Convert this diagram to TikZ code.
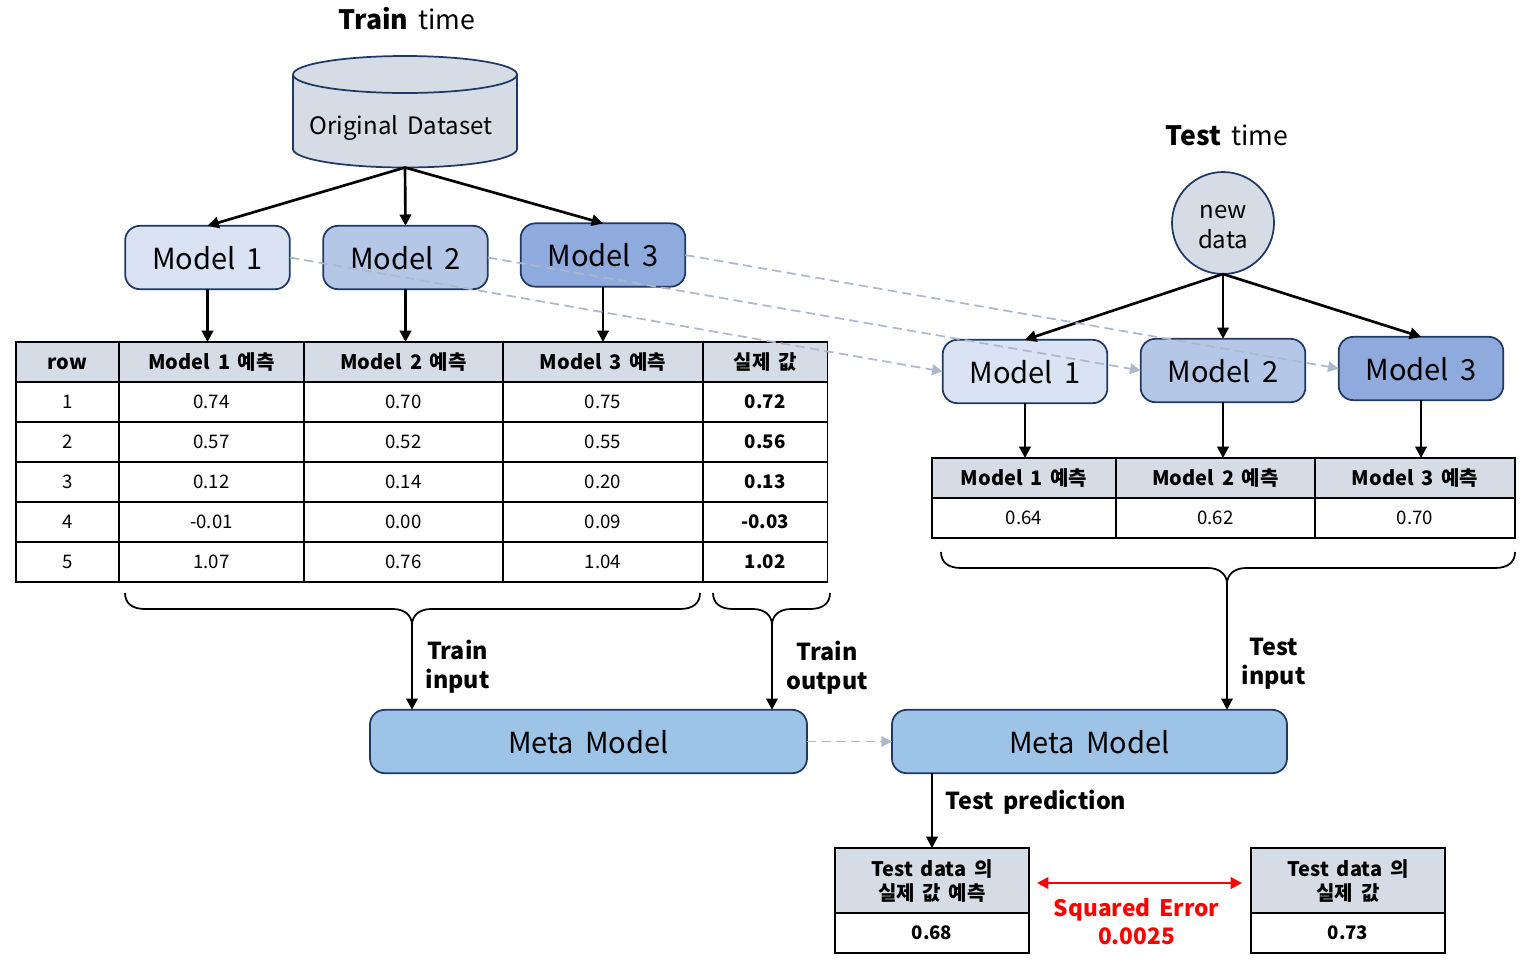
\documentclass[tikz,border=0pt]{standalone}
\usepackage{fontspec}
\setmainfont[WordSpace=1.7]{Noto Sans CJK KR}
\usetikzlibrary{arrows.meta}
\definecolor{navy}{HTML}{1F3864}
\definecolor{mA}{HTML}{DAE3F3}
\definecolor{mB}{HTML}{B4C7E7}
\definecolor{mC}{HTML}{8FAADC}
\definecolor{metaC}{HTML}{9DC3E6}
\definecolor{hdr}{HTML}{D6DCE5}
\definecolor{dashc}{HTML}{ADB9CA}
\newcommand{\fs}[1]{\fontsize{#1pt}{\dimexpr #1pt*6/5\relax}\selectfont}
\tikzset{
  x=0.75pt,y=-0.75pt,
  modelbox/.style={draw=navy,line width=1.3pt,rounded corners=11pt,minimum width=123.5pt,minimum height=47.5pt,inner sep=0pt,outer sep=0pt,font=\fs{21.8},text height=19pt,text depth=1.5pt},
  metabox/.style={modelbox,fill=metaC},
  cellb/.style={draw=black,line width=1.4pt,inner sep=0pt,outer sep=0pt,minimum height=30pt,font=\fs{14},text height=11.2pt,text depth=1pt},
  headb/.style={cellb,fill=hdr,font=\fs{15}\bfseries,text height=12pt,text depth=1pt},
  headtwo/.style={draw=black,line width=1.4pt,inner sep=0pt,outer sep=0pt,fill=hdr,font=\fs{15}\bfseries,minimum width=145.5pt,minimum height=48.75pt,align=center},
  valb/.style={cellb,font=\fs{14}\bfseries},
  free/.style={inner sep=0pt,outer sep=0pt,align=center},
  lab/.style={free,font=\fs{17.5}\bfseries},
  arr/.style={draw=black,line width=2pt,-{Triangle[length=8.5pt,width=8.5pt]}},
  dashln/.style={draw=dashc,line width=1.3pt,dash pattern=on 7pt off 4pt,-{Triangle[length=8pt,width=8pt]}},
  bracel/.style={draw=black,line width=1.3pt},
}
\newcommand{\bracepath}[6]{% left,right,tip x, y top, y mid, y tip
  \draw[bracel] (#1,#4) .. controls (#1,#4+10) and (#1+7,#5) .. (#1+20,#5) -- (#3-19,#5) .. controls (#3-8,#5) and (#3,#5+6) .. (#3,#6) .. controls (#3,#5+6) and (#3+8,#5) .. (#3+19,#5) -- (#2-20,#5) .. controls (#2-7,#5) and (#2,#4+10) .. (#2,#4);}
\begin{document}
\begin{tikzpicture}
\useasboundingbox (0,0) rectangle (1538,965);
% titles
\node[free,font=\fs{20}] (ttrain) at (407,19) {\textbf{Train} time};
\node[free,font=\fs{20}] (ttest) at (1227,135) {\textbf{Test} time};
% database
\draw[draw=navy,line width=1.3pt,fill=hdr] (293,74.5) -- (293,149) arc[x radius=112,y radius=18.5,start angle=180,end angle=0] -- (517,74.5);
\draw[draw=navy,line width=1.3pt,fill=hdr] (405,74.5) ellipse[x radius=112,y radius=18.5];
\node[free,font=\fs{18}] (dbtext) at (401,128) {Original Dataset};
\coordinate (db) at (405,167.5);
% train models
\node[modelbox,fill=mA] (m1) at (207.5,257.5) {Model 1};
\node[modelbox,fill=mB] (m2) at (405.5,257.5) {Model 2};
\node[modelbox,fill=mC] (m3) at (603,255) {Model 3};
% circle
\node[circle,draw=navy,line width=1.3pt,fill=hdr,minimum size=76.5pt,inner sep=0pt,outer sep=0pt] (nd) at (1223,223) {};
\node[free,font=\fs{18}] (ndt) at (1223,227) {new\\[1pt]data};
% test models
\node[modelbox,fill=mA] (t1) at (1025,371.5) {Model 1};
\node[modelbox,fill=mB] (t2) at (1223,370.5) {Model 2};
\node[modelbox,fill=mC] (t3) at (1421,368.5) {Model 3};
% train table
\foreach \n/\xa/\xb/\txt in {r/16/119/row,a/119/304/Model 1 예측,b/304/503/Model 2 예측,c/503/703/Model 3 예측,d/703/827.5/실제 값}{
  \pgfmathsetmacro{\xc}{(\xa+\xb)/2}
  \pgfmathsetmacro{\cw}{(\xb-\xa)*0.75}
  \node[headb,minimum width=\cw pt] (h\n) at (\xc,362) {\txt};
}
\foreach \y/\i/\ca/\cb/\cc/\cd/\ce in {402/1/1/0.74/0.70/0.75/0.72,442/2/2/0.57/0.52/0.55/0.56,482/3/3/0.12/0.14/0.20/0.13,522/4/4/-0.01/0.00/0.09/-0.03,562/5/5/1.07/0.76/1.04/1.02}{
  \node[cellb,minimum width=77.25pt] (r\i) at (67.5,\y) {\ca};
  \node[cellb,minimum width=138.75pt] (a\i) at (211.5,\y) {\cb};
  \node[cellb,minimum width=149.25pt] (b\i) at (403.5,\y) {\cc};
  \node[cellb,minimum width=150pt] (c\i) at (603,\y) {\cd};
  \node[valb,minimum width=93.4pt] (d\i) at (765.25,\y) {\ce};
}
% test table
\node[headb,minimum width=138pt] (pa) at (1024,478) {Model 1 예측};
\node[headb,minimum width=149.25pt] (pb) at (1215.5,478) {Model 2 예측};
\node[headb,minimum width=150pt] (pc) at (1415,478) {Model 3 예측};
\node[cellb,minimum width=138pt] (qa) at (1024,518) {0.64};
\node[cellb,minimum width=149.25pt] (qb) at (1215.5,518) {0.62};
\node[cellb,minimum width=150pt] (qc) at (1415,518) {0.70};
% meta
\node[metabox,minimum width=327.75pt] (mm) at (588.5,741.5) {Meta Model};
\node[metabox,minimum width=296.25pt] (tm) at (1089.5,741.5) {Meta Model};
% bottom tables
\node[headtwo] (ba) at (932,880.5) {Test data 의\\실제 값 예측};
\node[valb,minimum width=145.5pt] (bb) at (932,933) {0.68};
\node[headtwo] (ca) at (1348,880.5) {Test data 의\\실제 값};
\node[valb,minimum width=145.5pt] (cb) at (1348,933) {0.73};
% braces
\bracepath{125}{700}{412}{593}{609}{625}
\bracepath{713}{830}{772}{593}{609}{625}
\bracepath{941}{1515}{1227}{552}{568}{584}
\coordinate (ba1) at (412,625);
\coordinate (ba2) at (772,625);
\coordinate (ba3) at (1227,584);
% solid arrows
\draw[arr] (db) -- (m1.north);
\draw[arr] (db) -- (m2.north);
\draw[arr] (db) -- (m3.north);
\draw[arr] (m1.south) -- (m1.south |- ha.north);
\draw[arr] (m2.south) -- (m2.south |- ha.north);
\draw[arr] (m3.south) -- (m3.south |- ha.north);
\draw[arr] (nd.south) -- (t1.north);
\draw[arr] (nd.south) -- (t2.north);
\draw[arr] (nd.south) -- (t3.north);
\draw[arr] (t1.south) -- (t1.south |- pa.north);
\draw[arr] (t2.south) -- (t2.south |- pa.north);
\draw[arr] (t3.south) -- (t3.south |- pa.north);
\draw[arr] (ba1) -- (ba1 |- mm.north);
\draw[arr] (ba2) -- (ba2 |- mm.north);
\draw[arr] (ba3) -- (ba3 |- tm.north);
\draw[arr] (ba.north |- tm.south) -- (ba.north);
% dashed
\draw[dashln] (m1.east) -- (t1.west);
\draw[dashln] (m2.east) -- (t2.west);
\draw[dashln] (m3.east) -- (t3.west);
\draw[dashln] (mm.east) -- (tm.west);
% labels
\node[lab] (l1) at (457.5,667) {Train\\[1pt]input};
\node[lab] (l2) at (827,668) {Train\\[1pt]output};
\node[lab] (l3) at (1273.5,663.5) {Test\\[1pt]input};
\node[lab] (l4) at (1036,802) {Test prediction};
% squared error
\coordinate (se1) at (1037,883);
\coordinate (se2) at (1242,883);
\draw[draw=red,line width=2pt,{Triangle[length=8.5pt,width=8.5pt]}-{Triangle[length=8.5pt,width=8.5pt]}] (se1) -- (se2);
\node[lab,text=red,font=\fs{17}\bfseries] (l5) at (1136.5,921.5) {Squared Error\\0.0025};
\end{tikzpicture}
\end{document}
